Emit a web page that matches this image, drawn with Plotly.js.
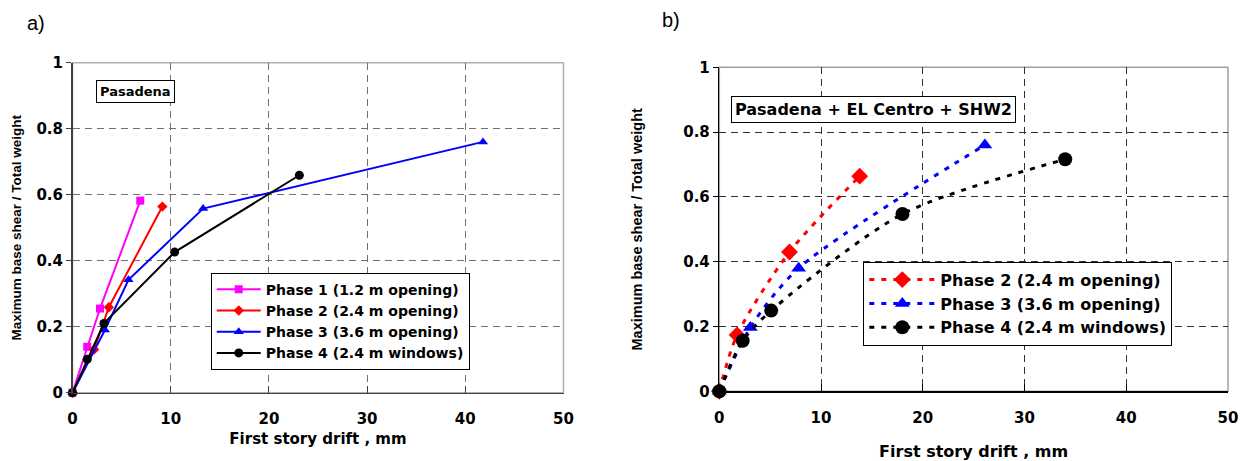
<!DOCTYPE html>
<html>
<head>
<meta charset="utf-8">
<script src="https://cdn.plot.ly/plotly-3.0.1.min.js"></script>
<style>html,body{margin:0;padding:0;background:#fff;}#chart{width:1247px;height:461px;}</style>
</head>
<body>
<div id="chart"></div>
<script>
// ---- Panel a) Pasadena ----
const p1A_x = [0, 1.5, 2.8, 6.9];
const p1A_y = [0, 0.139, 0.255, 0.582];
const p2A_x = [0, 2.2, 3.7, 9.15];
const p2A_y = [0, 0.131, 0.259, 0.564];
const p3A_x = [0, 3.3, 5.7, 13.3, 41.8];
const p3A_y = [0, 0.19, 0.342, 0.558, 0.76];
const p4A_x = [0, 1.5, 3.2, 10.4, 23.1];
const p4A_y = [0, 0.101, 0.21, 0.426, 0.659];

// ---- Panel b) Pasadena + EL Centro + SHW2 ----
const p2B_x = [0, 1.75, 6.9, 13.8];
const p2B_y = [0, 0.174, 0.43, 0.664];
const p3B_x = [0, 3.05, 7.8, 26.1];
const p3B_y = [0, 0.197, 0.38, 0.76];
const p4B_x = [0, 2.3, 5.1, 18.0, 34.0];
const p4B_y = [0, 0.156, 0.249, 0.547, 0.716];

const namesA = ["Phase 1 (1.2 m opening)", "Phase 2 (2.4 m opening)", "Phase 3 (3.6 m opening)", "Phase 4 (2.4 m windows)"];
const namesB = ["Phase 2 (2.4 m opening)", "Phase 3 (3.6 m opening)", "Phase 4 (2.4 m windows)"];
const xTicks = [0, 10, 20, 30, 40, 50];
const yTicks = [0, 0.2, 0.4, 0.6, 0.8, 1];
const yTickText = ["0", "0.2", "0.4", "0.6", "0.8", "1"];
const xTitle = "First story drift , mm";
const yTitle = "Maximum base shear / Total weight";

const WIDE = "DejaVu Sans, Verdana, sans-serif";
const NARROW = "Liberation Sans, Arial, Helvetica, sans-serif";

function solid(x, y, name, color, symbol, size) {
  return {x: x, y: y, name: name, type: 'scatter', mode: 'lines+markers',
    xaxis: 'x', yaxis: 'y', legend: 'legend', cliponaxis: false,
    line: {color: color, width: 2},
    marker: {color: color, symbol: symbol, size: size}};
}
function dashed(x, y, name, color, symbol, size) {
  return {x: x, y: y, name: name, type: 'scatter', mode: 'lines+markers',
    xaxis: 'x2', yaxis: 'y2', legend: 'legend2', cliponaxis: false,
    line: {color: color, width: 3, dash: '5px,7px', shape: 'spline', smoothing: 0.8},
    marker: {color: color, symbol: symbol, size: size}};
}

const data = [
  solid(p1A_x, p1A_y, namesA[0], '#FF00FF', 'square', 8),
  solid(p2A_x, p2A_y, namesA[1], '#FF0000', 'diamond', 8),
  solid(p3A_x, p3A_y, namesA[2], '#0000FF', 'triangle-up', 9),
  solid(p4A_x, p4A_y, namesA[3], '#000000', 'circle', 9),
  dashed(p2B_x, p2B_y, namesB[0], '#FF0000', 'diamond', 13),
  dashed(p3B_x, p3B_y, namesB[1], '#0000FF', 'triangle-up', 13),
  dashed(p4B_x, p4B_y, namesB[2], '#000000', 'circle', 14)
];

function xax(domain, anchor, grid, axcol, stand, tsize) {
  return {domain: domain, anchor: anchor, range: [0, 50], tickvals: xTicks, ticktext: xTicks.map(String),
    showgrid: true, gridcolor: grid, griddash: '7px,5px', gridwidth: 1, zeroline: false,
    showline: true, linecolor: axcol, linewidth: 1.5, ticks: 'inside', ticklen: 7, tickcolor: axcol,
    ticklabelstandoff: 12,
    tickfont: {family: WIDE, size: 15, color: '#000', weight: 'bold'},
    title: {text: xTitle, standoff: stand, font: {family: WIDE, size: tsize, color: '#000', weight: 'bold'}},
    fixedrange: true};
}
function yax(domain, anchor, grid, axcol, stand, tsize) {
  return {domain: domain, anchor: anchor, range: [0, 1], tickvals: yTicks, ticktext: yTickText,
    showgrid: true, gridcolor: grid, griddash: '7px,5px', gridwidth: 1, zeroline: false,
    showline: true, linecolor: axcol, linewidth: 1.5, ticks: 'outside', ticklen: 5, tickcolor: axcol,
    tickfont: {family: WIDE, size: 15, color: '#000', weight: 'bold'},
    title: {text: yTitle, standoff: stand, font: {family: NARROW, size: tsize, color: '#000', weight: 'bold'}},
    fixedrange: true};
}

const layout = {
  width: 1247, height: 461,
  margin: {l: 0, r: 0, t: 0, b: 0},
  paper_bgcolor: '#fff', plot_bgcolor: '#fff',
  font: {family: WIDE, color: '#000'},
  xaxis: xax([0.05814, 0.45189], 'y', '#707070', '#404040', 6, 15),
  yaxis: yax([0.14816, 0.86399], 'x', '#707070', '#404040', 11, 13.5),
  xaxis2: xax([0.57683, 0.98476], 'y2', '#303030', '#000000', 22, 16),
  yaxis2: yax([0.15119, 0.85401], 'x2', '#303030', '#000000', 37, 14.5),
  legend: {x: 0.169, y: 0.4085, xanchor: 'left', yanchor: 'top', bgcolor: '#fff',
    bordercolor: '#000', borderwidth: 1, tracegroupgap: 0, itemwidth: 44,
    font: {family: WIDE, size: 14, color: '#000', weight: 'bold'}},
  legend2: {x: 0.6923, y: 0.4323, xanchor: 'left', yanchor: 'top', bgcolor: '#fff',
    bordercolor: '#000', borderwidth: 1, tracegroupgap: 0, itemwidth: 66,
    font: {family: WIDE, size: 16, color: '#000', weight: 'bold'}},
  shapes: [
    {type: 'rect', xref: 'x domain', yref: 'y domain', x0: 0, x1: 1, y0: 0, y1: 1,
      line: {color: '#b0b0b0', width: 1.5}, layer: 'below'},
    {type: 'rect', xref: 'x2 domain', yref: 'y2 domain', x0: 0, x1: 1, y0: 0, y1: 1,
      line: {color: '#a0a0a0', width: 1.5}, layer: 'below'}
  ],
  annotations: [
    {text: 'Pasadena', xref: 'paper', yref: 'paper', x: 0.10826, y: 0.8015, xanchor: 'center', yanchor: 'middle',
      showarrow: false, bordercolor: '#000', borderwidth: 1, borderpad: 3, bgcolor: '#fff',
      font: {family: WIDE, size: 13, color: '#000', weight: 'bold'}},
    {text: 'Pasadena + EL Centro + SHW2', xref: 'paper', yref: 'paper', x: 0.70048, y: 0.7614, xanchor: 'center', yanchor: 'middle',
      showarrow: false, bordercolor: '#000', borderwidth: 1, borderpad: 3, bgcolor: '#fff',
      font: {family: WIDE, size: 16, color: '#000', weight: 'bold'}},
    {text: 'a)', xref: 'paper', yref: 'paper', x: 0.02887, y: 0.9501, xanchor: 'center', yanchor: 'middle',
      showarrow: false, font: {family: NARROW, size: 20, color: '#000'}},
    {text: 'b)', xref: 'paper', yref: 'paper', x: 0.5381, y: 0.9566, xanchor: 'center', yanchor: 'middle',
      showarrow: false, font: {family: NARROW, size: 20, color: '#000'}}
  ]
};

Plotly.newPlot('chart', data, layout, {displayModeBar: false, staticPlot: true});
</script>
</body>
</html>
